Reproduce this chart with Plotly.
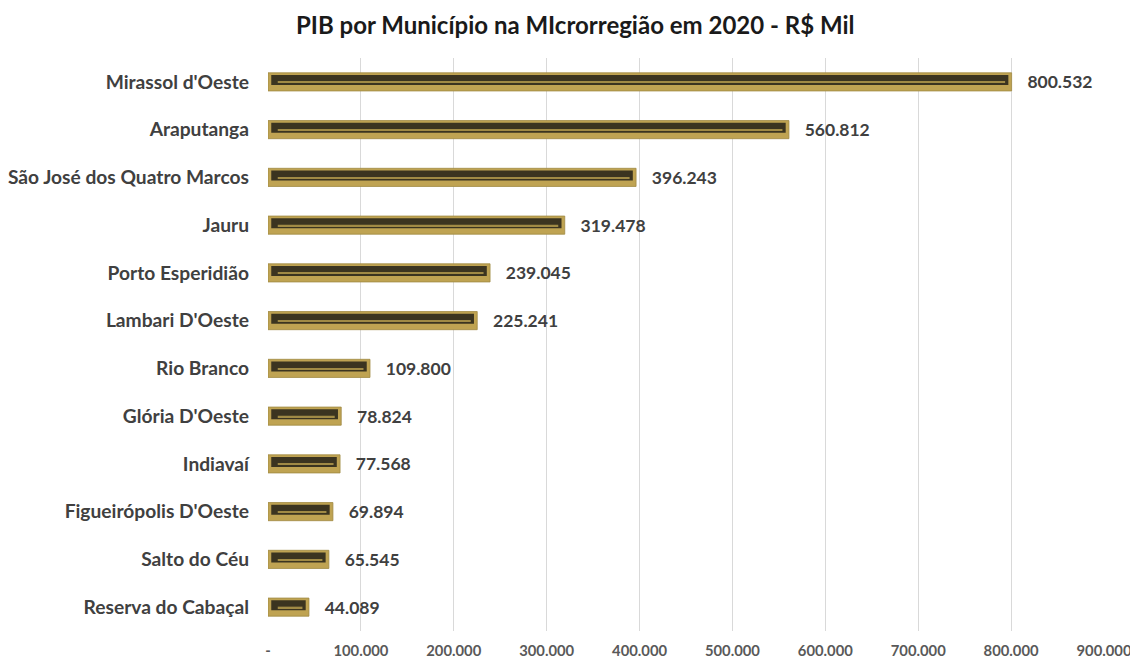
import plotly.graph_objects as go

municipios = ["Mirassol d'Oeste", "Araputanga", "São José dos Quatro Marcos", "Jauru",
              "Porto Esperidião", "Lambari D'Oeste", "Rio Branco", "Glória D'Oeste",
              "Indiavaí", "Figueirópolis D'Oeste", "Salto do Céu", "Reserva do Cabaçal"]
pib = [800532, 560812, 396243, 319478, 239045, 225241, 109800, 78824, 77568, 69894, 65545, 44089]
tick_vals = [0, 100000, 200000, 300000, 400000, 500000, 600000, 700000, 800000, 900000]
tick_text = ["-", "100.000", "200.000", "300.000", "400.000", "500.000", "600.000", "700.000", "800.000", "900.000"]

def fmt(v):
    return f"{v:,}".replace(",", ".")

cats = municipios[::-1]
vals = pib[::-1]
inset = 3500
fig = go.Figure()
fig.add_trace(go.Bar(y=cats, x=vals, orientation="h", width=0.38,
                     marker=dict(color="#bfa352", line=dict(color="#a08942", width=0.8)),
                     text=["   " + fmt(v) for v in vals], textposition="outside",
                     constraintext="none",
                     textfont=dict(family="Lato", size=17.5, color="#404040", weight="bold"),
                     cliponaxis=False, hoverinfo="skip"))
fig.add_trace(go.Bar(y=cats, x=[v - 2 * inset for v in vals], base=[inset] * len(vals),
                     orientation="h", width=0.21, offset=-0.065,
                     marker=dict(color="#3b3420", line=dict(width=0)), hoverinfo="skip"))
fig.add_trace(go.Bar(y=cats, x=[v - 5 * inset for v in vals], base=[3 * inset] * len(vals),
                     orientation="h", width=0.03, offset=-0.02,
                     marker=dict(color="#a08a45", line=dict(width=0)), hoverinfo="skip"))

fig.update_layout(
    barmode="overlay",
    width=1130, height=651,
    paper_bgcolor="white", plot_bgcolor="white",
    showlegend=False,
    margin=dict(l=260, r=34, t=50, b=28),
    title=dict(text="<b>PIB por Município na MIcrorregião em 2020 - R$ Mil</b>",
               x=0.502, xanchor="center", y=0.973, yanchor="middle",
               font=dict(family="Lato", size=24, color="#1a1a1a")),
    xaxis=dict(range=[0, 900000], tickvals=tick_vals, ticktext=tick_text,
               showgrid=True, gridcolor="#d9d9d9", gridwidth=1, zeroline=False,
               showline=False, ticks="", ticklabelstandoff=9, automargin=False,
               tickfont=dict(family="Lato", size=14.8, color="#595959", weight="bold")),
    yaxis=dict(showgrid=False, showline=False, ticks="", ticklabelstandoff=18, automargin=False,
               tickfont=dict(family="Lato", size=19.2, color="#404040", weight="bold")),
)
fig.write_html("out.html")
